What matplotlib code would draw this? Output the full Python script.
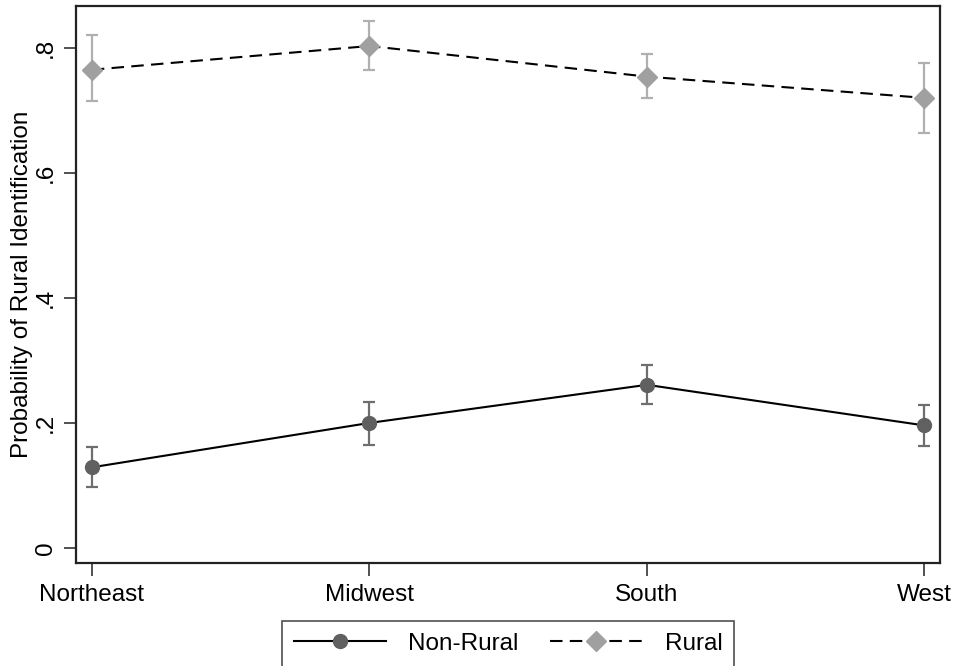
import matplotlib.pyplot as plt

plt.rcParams['font.family'] = ['Liberation Sans', 'DejaVu Sans']

regions = ['Northeast', 'Midwest', 'South', 'West']

nonrural = [0.129, 0.200, 0.261, 0.196]
nonrural_lo = [0.098, 0.165, 0.230, 0.163]
nonrural_hi = [0.161, 0.233, 0.293, 0.228]

rural = [0.765, 0.803, 0.754, 0.720]
rural_lo = [0.715, 0.764, 0.720, 0.664]
rural_hi = [0.820, 0.843, 0.790, 0.776]

x = list(range(len(regions)))

fig = plt.figure(figsize=(9.55, 6.66), dpi=100)
ax = fig.add_axes([0.0796, 0.1547, 0.905, 0.8363])

# confidence intervals
ax.errorbar(x, nonrural,
            yerr=[[m - l for m, l in zip(nonrural, nonrural_lo)],
                  [h - m for m, h in zip(nonrural, nonrural_hi)]],
            fmt='none', ecolor='#6e6e6e', elinewidth=1.6, capsize=4.5, capthick=1.6, zorder=2)
ax.errorbar(x, rural,
            yerr=[[m - l for m, l in zip(rural, rural_lo)],
                  [h - m for m, h in zip(rural, rural_hi)]],
            fmt='none', ecolor='#b0b0b0', elinewidth=1.6, capsize=4.5, capthick=1.6, zorder=2)

# point estimates
ax.plot(x, nonrural, color='black', lw=1.5, ls='-', marker='o', markersize=10,
        markerfacecolor='#606060', markeredgecolor='#606060', label='Non-Rural', zorder=3)
ax.plot(x, rural, color='black', lw=1.5, ls=(0, (6, 3.5)), marker='D', markersize=10,
        markerfacecolor='#a0a0a0', markeredgecolor='#a0a0a0', label='Rural', zorder=3)

ax.set_xlim(-0.057, 3.057)
ax.set_ylim(-0.024, 0.867)
ax.set_xticks(x)
ax.set_xticklabels(regions, fontsize=17.5)
ax.set_yticks([0, 0.2, 0.4, 0.6, 0.8])
ax.set_yticklabels(['0', '.2', '.4', '.6', '.8'], fontsize=17.5, rotation=90, va='center')
ax.tick_params(axis='both', length=9, width=1.2, color='#333333')
ax.tick_params(axis='x', pad=6)
ax.tick_params(axis='y', pad=5)
ax.set_ylabel('Probability of Rural Identification', fontsize=17.5, labelpad=1)

for s in ax.spines.values():
    s.set_linewidth(1.6)
    s.set_color('#222222')

leg = ax.legend(loc='upper center', bbox_to_anchor=(0.5, -0.082), ncol=2, fontsize=17.5,
                frameon=True, fancybox=False, edgecolor='#222222', handlelength=3.8,
                columnspacing=1.3, borderpad=0.5, handletextpad=0.9)
leg.get_frame().set_linewidth(1.2)

fig.savefig('out.png', dpi=100)
